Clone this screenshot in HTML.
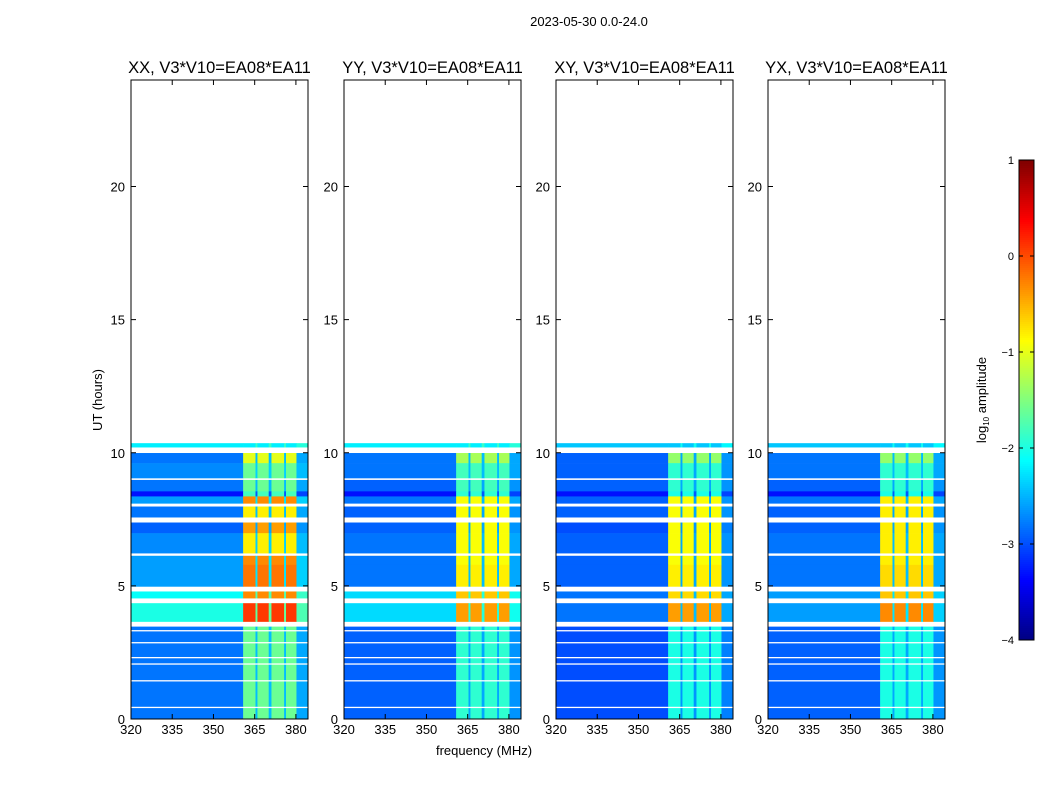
<!DOCTYPE html>
<html><head><meta charset="utf-8"><style>
html,body{margin:0;padding:0;background:#fff;}
svg text{font-family:"Liberation Sans",sans-serif;fill:#000;}
</style></head><body>
<svg id="fig" width="1050" height="800" xmlns="http://www.w3.org/2000/svg">
<text x="589" y="26" font-size="13" text-anchor="middle">2023-05-30 0.0-24.0</text>
<text x="484" y="755" font-size="13" text-anchor="middle">frequency (MHz)</text>
<text transform="translate(102,400) rotate(-90)" font-size="13" text-anchor="middle">UT (hours)</text>
<g id="panels"></g>
<g id="cbar"></g>
</svg>
<script>
// ---- data ----
const panelTitles = ["XX, V3*V10=EA08*EA11","YY, V3*V10=EA08*EA11","XY, V3*V10=EA08*EA11","YX, V3*V10=EA08*EA11"];
const timeTop    = [10.36,10.21,9.99,9.61,9.05,8.98,8.55,8.36,8.10,7.98,7.58,7.38,6.98,6.23,6.13,5.79,4.98,4.79,4.54,4.35,3.66,3.47,3.35,3.29,2.90,2.84,2.34,2.28,2.10,2.04,1.47,1.41,0.47,0.41];
const timeBottom = [10.21,9.99,9.61,9.05,8.98,8.55,8.36,8.10,7.98,7.58,7.38,6.98,6.23,6.13,5.79,4.98,4.79,4.54,4.35,3.66,3.47,3.35,3.29,2.90,2.84,2.34,2.28,2.10,2.04,1.47,1.41,0.47,0.41,0.00];
const flagged    = [0,1,0,0,1,0,0,0,1,0,1,0,0,1,0,0,1,0,1,0,1,0,1,0,1,0,1,0,1,0,1,0,1,0];
const bgXX  = [-2.2,0,-2.8,-2.7,0,-2.8,-3.3,-2.6,0,-2.8,0,-2.9,-2.7,0,-2.6,-2.6,0,-2.1,0,-2.0,0,-2.8,0,-2.8,0,-2.8,0,-2.8,0,-2.8,0,-2.8,0,-2.8];
const rfiXX = [-2.2,0,-1.0,-1.6,0,-1.6,-1.8,-0.3,0,-0.8,0,-0.4,-0.8,0,-0.3,-0.2,0,-0.3,0,0.1,0,-1.6,0,-1.6,0,-1.6,0,-1.6,0,-1.6,0,-1.6,0,-1.6];
const bgYY  = [-2.2,0,-2.8,-2.8,0,-2.9,-3.3,-2.8,0,-2.9,0,-2.9,-2.8,0,-2.8,-2.8,0,-2.3,0,-2.3,0,-2.9,0,-2.9,0,-2.9,0,-2.9,0,-2.9,0,-2.9,0,-2.9];
const rfiYY = [-2.2,0,-1.3,-1.8,0,-1.8,-1.9,-0.9,0,-0.9,0,-0.9,-0.9,0,-0.9,-0.8,0,-0.6,0,-0.4,0,-1.9,0,-1.9,0,-1.9,0,-1.9,0,-1.9,0,-1.9,0,-1.9];
const bgXY  = [-2.4,0,-2.9,-2.9,0,-2.9,-3.3,-2.9,0,-2.9,0,-3.0,-2.9,0,-2.9,-2.9,0,-2.8,0,-2.8,0,-3.0,0,-3.0,0,-3.0,0,-3.0,0,-3.0,0,-3.0,0,-3.0];
const rfiXY = [-2.4,0,-1.4,-1.9,0,-1.9,-2.0,-0.9,0,-0.9,0,-0.9,-0.9,0,-0.9,-0.8,0,-0.7,0,-0.4,0,-2.0,0,-2.0,0,-2.0,0,-2.0,0,-2.0,0,-2.0,0,-2.0];
const bgYX  = [-2.4,0,-2.8,-2.8,0,-2.9,-3.3,-2.8,0,-2.9,0,-2.9,-2.8,0,-2.8,-2.8,0,-2.6,0,-2.6,0,-2.9,0,-2.9,0,-2.9,0,-2.9,0,-2.9,0,-2.9,0,-2.9];
const rfiYX = [-2.4,0,-1.4,-1.9,0,-1.9,-2.0,-0.8,0,-0.8,0,-0.8,-0.8,0,-0.8,-0.7,0,-0.6,0,-0.3,0,-2.0,0,-2.0,0,-2.0,0,-2.0,0,-2.0,0,-2.0,0,-2.0];
const bandStart = [320.0,360.8,365.3,366.0,370.1,371.1,375.7,376.4,380.2];
const bandEnd   = [360.8,365.3,366.0,370.1,371.1,375.7,376.4,380.2,384.4];
const bandIsRfi = [0,1,0,1,0,1,0,1,0];
const bandGapOffset = [0,0,0.35,0,0.35,0,0.35,0,0.25];
const xTicks = [320,335,350,365,380];
const yTicks = [0,5,10,15,20];
const cbTicks = [1,0,-1,-2,-3,-4];
const bgs = [bgXX,bgYY,bgXY,bgYX];
const rfis = [rfiXX,rfiYY,rfiXY,rfiYX];

// ---- layout ----
const panelLeft = [131,344,556,768];
const pw = 177, plotTop = 80, plotBottom = 719;
const fMin = 320, fMax = 384.4, tMin = 0, tMax = 24;
const NS = "http://www.w3.org/2000/svg";
function jet(v){
  let t = (v+4)/5; t = Math.max(0,Math.min(1,t));
  const c = x => Math.round(255*Math.max(0,Math.min(1,x)));
  return `rgb(${c(1.5-Math.abs(4*t-3))},${c(1.5-Math.abs(4*t-2))},${c(1.5-Math.abs(4*t-1))})`;
}
function el(tag, attrs, parent){ const e=document.createElementNS(NS,tag); for(const k in attrs) e.setAttribute(k,attrs[k]); parent.appendChild(e); return e; }
const panels = document.getElementById('panels');
for(let p=0;p<4;p++){
  const x0 = panelLeft[p];
  const xs = f => x0 + (f-fMin)/(fMax-fMin)*pw;
  const ys = h => plotBottom - (h-tMin)/(tMax-tMin)*(plotBottom-plotTop);
  const g = el('g',{},panels);
  
  
  for(let r=0;r<timeTop.length;r++){
    if(flagged[r]) continue;
    for(let b=0;b<bandStart.length;b++){
      let v = bandIsRfi[b] ? rfis[p][r] : bgs[p][r] + bandGapOffset[b];
      const y1 = ys(timeTop[r]), y2 = ys(timeBottom[r]);
      const rc = el('rect',{x:xs(bandStart[b]).toFixed(2),y:y1.toFixed(2),width:(xs(bandEnd[b])-xs(bandStart[b])+0.3).toFixed(2),height:(y2-y1+0.3).toFixed(2),fill:jet(v)},g);
      
      
    }
  }
  const fr = el('rect',{x:x0,y:plotTop,width:pw,height:plotBottom-plotTop,fill:'none',stroke:'#000','stroke-width':1},g);
  
  
  const tt = el('text',{x:x0+pw/2,y:73,'font-size':16.5,'text-anchor':'middle'},g);
  tt.textContent = panelTitles[p];
  
  
  xTicks.forEach(f=>{
    const x=xs(f);
    el('line',{x1:x,x2:x,y1:plotBottom,y2:plotBottom-5,stroke:'#000'},g);
    el('line',{x1:x,x2:x,y1:plotTop,y2:plotTop+5,stroke:'#000'},g);
    const t=el('text',{x:x,y:plotBottom+15,'font-size':13,'text-anchor':'middle'},g);
    t.textContent=f;
    
    
  });
  yTicks.forEach(h=>{
    const y=ys(h);
    el('line',{x1:x0,x2:x0+5,y1:y,y2:y,stroke:'#000'},g);
    el('line',{x1:x0+pw,x2:x0+pw-5,y1:y,y2:y,stroke:'#000'},g);
    const t=el('text',{x:x0-6,y:y+5,'font-size':13,'text-anchor':'end'},g);
    t.textContent=h;
    
    
  });
}
// colorbar
const cb = document.getElementById('cbar');
const cbx=1019, cbw=15, cbt=160, cbb=640;
for(let i=0;i<240;i++){
  const v = 1 - i/240*5;
  el('rect',{x:cbx,y:cbt+i*2,width:cbw,height:2.3,fill:jet(v)},cb);
}
el('rect',{x:cbx,y:cbt,width:cbw,height:cbb-cbt,fill:'none',stroke:'#000'},cb);
cbTicks.forEach(v=>{
  const y = cbt + (1-v)/5*(cbb-cbt);
  el('line',{x1:cbx,x2:cbx+4,y1:y,y2:y,stroke:'#000'},cb);
  el('line',{x1:cbx+cbw,x2:cbx+cbw-4,y1:y,y2:y,stroke:'#000'},cb);
  const t=el('text',{x:cbx-5,y:y+4,'font-size':11,'text-anchor':'end'},cb);
  t.textContent = v<0 ? '\u2212'+(-v) : v;
  
  
});
const cl = el('text',{transform:'translate(986,400) rotate(-90)','font-size':13,'text-anchor':'middle'},cb);
cl.innerHTML = 'log<tspan font-size="8" dy="3">10</tspan><tspan dy="-3"> amplitude</tspan>';


</script>
</body></html>
